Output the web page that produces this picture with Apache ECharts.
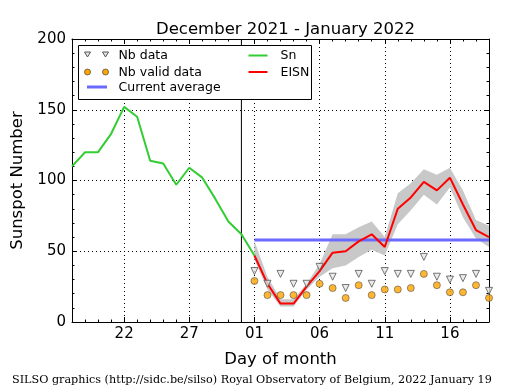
<!DOCTYPE html>
<html>
<head>
<meta charset="utf-8">
<script src="https://cdn.jsdelivr.net/npm/echarts@6/dist/echarts.min.js"></script>
<style>
html,body{margin:0;padding:0;background:#fff;}
#chart{width:515px;height:390px;}
</style>
</head>
<body>
<div id="chart"></div>
<script>
// ---- Data ----
const days = [
  '2021-12-18','2021-12-19','2021-12-20','2021-12-21','2021-12-22','2021-12-23','2021-12-24',
  '2021-12-25','2021-12-26','2021-12-27','2021-12-28','2021-12-29','2021-12-30','2021-12-31',
  '2022-01-01','2022-01-02','2022-01-03','2022-01-04','2022-01-05','2022-01-06','2022-01-07',
  '2022-01-08','2022-01-09','2022-01-10','2022-01-11','2022-01-12','2022-01-13','2022-01-14',
  '2022-01-15','2022-01-16','2022-01-17','2022-01-18','2022-01-19'
];
const majorTickLabels = ['22','27','01','06','11','16'];
const snDays = days.slice(0, 15);
const snValues = [110,120,120,133,152,145,114,112,97,109,102,87,71,62,47];
const eisnDays = days.slice(14);
const eisnValues = [47,27,13,13,25,36,49,50,57,62,53,80,88,99,93,102,83,65,60];
const bandUpper  = [57,32,16,16,27,41,62,62,67,71,60,91,98,108,104,109,93,72,68];
const bandLower  = [44,23,11,11,23,32,38,40,46,51,47,69,79,90,83,95,74,59,53];
const nbData     = [36,27,34,27,27,39,32,24,34,27,36,34,34,46,32,30,31,34,22];
const nbValid    = [29,19,19,19,19,27,24,17,26,19,23,23,24,34,26,21,21,26,17];
const currentAverage = 58;
const currentAverageDays = ['2022-01-01','2022-01-19'];
const separatorDay = '2021-12-31';
const yTicks = [0, 50, 100, 150, 200];

// ---- Helpers ----
const FONT = 'DejaVu Sans';
const isMajor = (i) => majorTickLabels.includes(days[i].slice(8));
const pad = (arr, start) => days.map((d, i) => (i >= start && i - start < arr.length) ? arr[i - start] : '-');
const startIdx = days.indexOf(eisnDays[0]);
const lowerAligned = pad(bandLower, startIdx);
const diffAligned = pad(bandUpper.map((u, i) => u - bandLower[i]), startIdx);
const yMin = yTicks[0], yMax = yTicks[yTicks.length - 1];

const chart = echarts.init(document.getElementById('chart'), null, {renderer: 'canvas'});

const dotted = {color: '#000', width: 1, type: [1, 3]};
const LF = '12.5px "DejaVu Sans"';

const option = {
  animation: false,
  backgroundColor: '#fff',
  title: {
    text: 'December 2021 - January 2022',
    left: 151, top: 16,
    textStyle: {fontFamily: FONT, fontSize: 16.5, fontWeight: 'normal', color: '#000'}
  },
  grid: {left: 72, right: 26, top: 39, bottom: 68, containLabel: false},
  xAxis: [
    {
      type: 'category', data: days, boundaryGap: false, position: 'bottom',
      axisLine: {show: true, lineStyle: {color: '#000', width: 1}},
      axisTick: {show: true, inside: true, length: 5, interval: (i) => isMajor(i), lineStyle: {color: '#000'}},
      axisLabel: {interval: (i) => isMajor(i), formatter: (v) => v.slice(8), fontFamily: FONT, fontSize: 15, color: '#000', margin: 5},
      splitLine: {show: true, interval: (i) => isMajor(i), lineStyle: dotted},
      name: 'Day of month', nameLocation: 'middle', nameGap: 29,
      nameTextStyle: {fontFamily: FONT, fontSize: 16.5, color: '#000'}
    },
    {
      type: 'category', data: days, boundaryGap: false, position: 'bottom',
      axisLine: {show: false}, axisLabel: {show: false}, splitLine: {show: false},
      axisTick: {show: true, inside: true, length: 2.5, interval: 0, lineStyle: {color: '#000'}}
    },
    {
      type: 'category', data: days, boundaryGap: false, position: 'top',
      axisLine: {show: true, lineStyle: {color: '#000', width: 1}}, axisLabel: {show: false}, splitLine: {show: false},
      axisTick: {show: true, inside: true, length: 5, interval: (i) => isMajor(i), lineStyle: {color: '#000'}}
    },
    {
      type: 'category', data: days, boundaryGap: false, position: 'top',
      axisLine: {show: false}, axisLabel: {show: false}, splitLine: {show: false},
      axisTick: {show: true, inside: true, length: 2.5, interval: 0, lineStyle: {color: '#000'}}
    }
  ],
  yAxis: [
    {
      type: 'value', min: yMin, max: yMax, interval: yTicks[1] - yTicks[0], position: 'left',
      axisLine: {show: true, lineStyle: {color: '#000', width: 1}},
      axisTick: {show: true, inside: true, length: 5, lineStyle: {color: '#000'}},
      minorTick: {show: true, splitNumber: 5, length: 2.5, lineStyle: {color: '#000'}},
      axisLabel: {fontFamily: FONT, fontSize: 15, color: '#000', margin: 6},
      splitLine: {show: true, lineStyle: dotted},
      name: 'Sunspot Number', nameLocation: 'middle', nameGap: 38,
      nameTextStyle: {fontFamily: FONT, fontSize: 16.5, color: '#000'}
    },
    {
      type: 'value', min: yMin, max: yMax, interval: yTicks[1] - yTicks[0], position: 'right',
      axisLine: {show: true, lineStyle: {color: '#000', width: 1}},
      axisTick: {show: true, inside: true, length: 5, lineStyle: {color: '#000'}},
      minorTick: {show: true, splitNumber: 5, length: 2.5, lineStyle: {color: '#000'}},
      axisLabel: {show: false}, splitLine: {show: false}
    }
  ],
  series: [
    {
      name: 'band-lower', type: 'line', stack: 'band', data: lowerAligned,
      symbol: 'none', lineStyle: {opacity: 0}, silent: true, z: 1
    },
    {
      name: 'band', type: 'line', stack: 'band', data: diffAligned,
      symbol: 'none', lineStyle: {opacity: 0}, areaStyle: {color: '#c8c8c8', opacity: 1}, silent: true, z: 1
    },
    {
      name: 'separator', type: 'line', symbol: 'none', silent: true,
      data: [[separatorDay, yMin], [separatorDay, yMax]],
      lineStyle: {color: '#000', width: 1}, z: 2
    },
    {
      name: 'Current average', type: 'line', symbol: 'none',
      data: currentAverageDays.map(d => [d, currentAverage]),
      lineStyle: {color: '#6a6aff', width: 3}, z: 2
    },
    {
      name: 'EISN', type: 'line', symbol: 'none',
      data: eisnDays.map((d, i) => [d, eisnValues[i]]),
      lineStyle: {color: '#ff0000', width: 2}, z: 3
    },
    {
      name: 'Sn', type: 'line', symbol: 'none',
      data: snDays.map((d, i) => [d, snValues[i]]),
      lineStyle: {color: '#32cd32', width: 2}, z: 3
    },
    {
      name: 'Nb data', type: 'scatter', symbol: 'triangle', symbolRotate: 180, symbolSize: 7,
      data: eisnDays.map((d, i) => [d, nbData[i]]),
      itemStyle: {color: '#e6e6e6', borderColor: '#555', borderWidth: 1}, z: 4
    },
    {
      name: 'Nb valid data', type: 'scatter', symbol: 'circle', symbolSize: 7,
      data: eisnDays.map((d, i) => [d, nbValid[i]]),
      itemStyle: {color: '#ffa500', borderColor: '#444', borderWidth: 0.7}, z: 4
    }
  ],
  graphic: [
    {
      type: 'group', left: 78, top: 45, z: 100,
      children: [
        {type: 'rect', z: 100, shape: {x: 0, y: 0, width: 233, height: 54}, style: {fill: '#fff', stroke: '#000', lineWidth: 1}},
        {type: 'polygon', z: 101, shape: {points: [[6,6.5],[12,6.5],[9,11.5]]}, style: {fill: '#e6e6e6', stroke: '#555', lineWidth: 1}},
        {type: 'polygon', z: 101, shape: {points: [[24,6.5],[30,6.5],[27,11.5]]}, style: {fill: '#e6e6e6', stroke: '#555', lineWidth: 1}},
        {type: 'text', z: 101, x: 40, y: 10.5, style: {text: 'Nb data', font: LF, fill: '#000', textVerticalAlign: 'middle'}},
        {type: 'circle', z: 101, shape: {cx: 9, cy: 26.5, r: 3}, style: {fill: '#ffa500', stroke: '#444', lineWidth: 0.7}},
        {type: 'circle', z: 101, shape: {cx: 27, cy: 26.5, r: 3}, style: {fill: '#ffa500', stroke: '#444', lineWidth: 0.7}},
        {type: 'text', z: 101, x: 40, y: 27, style: {text: 'Nb valid data', font: LF, fill: '#000', textVerticalAlign: 'middle'}},
        {type: 'line', z: 101, shape: {x1: 8.5, y1: 41.5, x2: 28.5, y2: 41.5}, style: {stroke: '#6a6aff', lineWidth: 3}},
        {type: 'text', z: 101, x: 40, y: 42, style: {text: 'Current average', font: LF, fill: '#000', textVerticalAlign: 'middle'}},
        {type: 'line', z: 101, shape: {x1: 170, y1: 10, x2: 189, y2: 10}, style: {stroke: '#32cd32', lineWidth: 2}},
        {type: 'text', z: 101, x: 202, y: 10.5, style: {text: 'Sn', font: LF, fill: '#000', textVerticalAlign: 'middle'}},
        {type: 'line', z: 101, shape: {x1: 170, y1: 26.5, x2: 189, y2: 26.5}, style: {stroke: '#ff0000', lineWidth: 2}},
        {type: 'text', z: 101, x: 202, y: 27, style: {text: 'EISN', font: LF, fill: '#000', textVerticalAlign: 'middle'}}
      ]
    },
    {
      type: 'text', left: 12, top: 375, z: 100,
      style: {text: 'SILSO graphics (http://sidc.be/silso) Royal Observatory of Belgium, 2022 January 19', font: '11.2px "DejaVu Serif"', fill: '#000'}
    }
  ]
};
chart.setOption(option);
</script>
</body>
</html>
